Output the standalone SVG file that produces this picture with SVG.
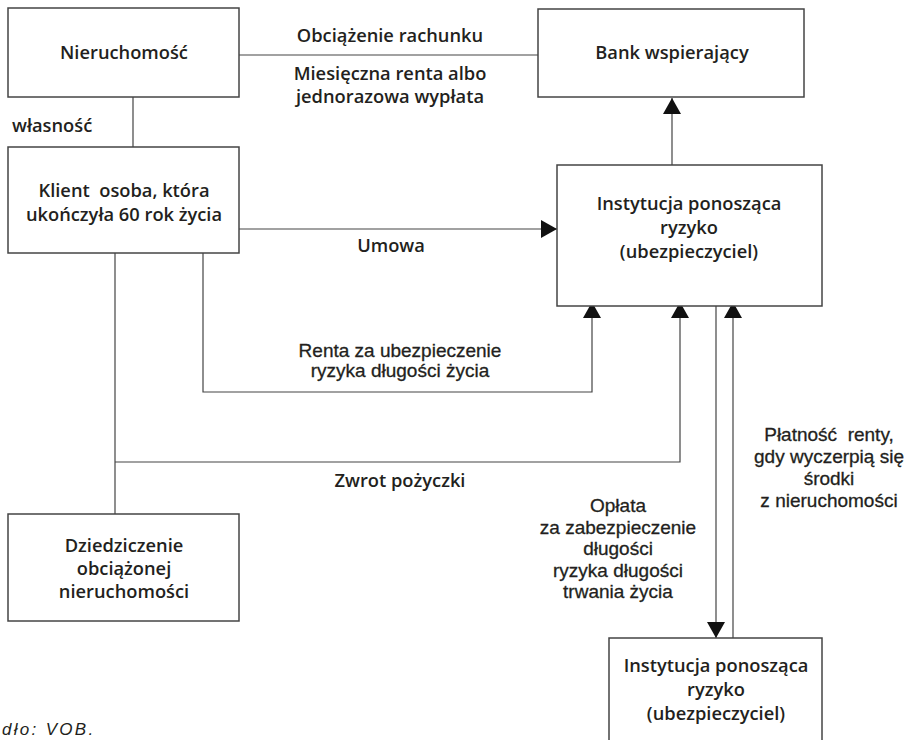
<svg xmlns="http://www.w3.org/2000/svg" width="915" height="740" viewBox="0 0 915 740">
<defs>
<style>
.box{fill:#fff;stroke:#444;stroke-width:1.5}
.ln{fill:none;stroke:#444;stroke-width:1.2}
.t{font-family:"Open Sans","Noto Sans",sans-serif;font-weight:600;font-size:18.3px;fill:#231f20;text-anchor:middle;white-space:pre}
.a{font-family:"Liberation Sans",Arial,sans-serif;font-size:19px;fill:#231f20;text-anchor:middle;stroke:#231f20;stroke-width:0.3;white-space:pre}
.src{font-family:"Liberation Sans",Arial,sans-serif;font-style:italic;font-size:17px;fill:#231f20;letter-spacing:2.3px}
</style>
<marker id="arr" markerUnits="userSpaceOnUse" markerWidth="17" markerHeight="19" viewBox="0 0 17 19" refX="16" refY="9" orient="auto">
<path d="M0,0 L16,9 L0,18 z" fill="#111"/>
</marker>
</defs>
<rect width="915" height="740" fill="#fff"/>

<g id="connectors">
<line class="ln" x1="239" y1="55" x2="538" y2="55"/>
<line class="ln" x1="133" y1="97" x2="133" y2="147"/>
<line class="ln" x1="239" y1="229" x2="557" y2="229" marker-end="url(#arr)"/>
<line class="ln" x1="672" y1="165" x2="672" y2="98" marker-end="url(#arr)"/>
<line class="ln" x1="115" y1="253" x2="115" y2="514"/>
<polyline class="ln" points="203,253 203,392 592,392 592,302" marker-end="url(#arr)"/>
<polyline class="ln" points="115,462 680,462 680,302" marker-end="url(#arr)"/>
<line class="ln" x1="716" y1="303" x2="716" y2="638" marker-end="url(#arr)"/>
<line class="ln" x1="733" y1="638" x2="733" y2="302" marker-end="url(#arr)"/>
</g>

<g id="nieruchomosc">
<rect class="box" x="8" y="8" width="231" height="89"/>
<text class="t" x="124" y="59">Nieruchomość</text>
</g>
<g id="bank">
<rect class="box" x="538" y="9" width="266" height="88"/>
<text class="t" x="672" y="59">Bank wspierający</text>
</g>
<g id="klient">
<rect class="box" x="8" y="147" width="231" height="106"/>
<text class="t" x="124" y="197">Klient  osoba, która</text>
<text class="t" x="124" y="221">ukończyła 60 rok życia</text>
</g>
<g id="instytucja">
<rect class="box" x="557" y="165" width="265" height="141"/>
<text class="t" x="689" y="210">Instytucja ponosząca</text>
<text class="t" x="689" y="234">ryzyko</text>
<text class="t" x="689" y="258">(ubezpieczyciel)</text>
</g>
<g id="dziedziczenie">
<rect class="box" x="8" y="514" width="231" height="107"/>
<text class="t" x="124" y="552">Dziedziczenie</text>
<text class="t" x="124" y="575">obciążonej</text>
<text class="t" x="124" y="598">nieruchomości</text>
</g>
<g id="instytucja2">
<rect class="box" x="609" y="638" width="213" height="120"/>
<text class="t" x="716" y="672">Instytucja ponosząca</text>
<text class="t" x="716" y="696">ryzyko</text>
<text class="t" x="716" y="720">(ubezpieczyciel)</text>
</g>

<g id="labels">
<text class="t" x="390" y="42">Obciążenie rachunku</text>
<text class="t" x="390" y="80">Miesięczna renta albo</text>
<text class="t" x="390" y="103">jednorazowa wypłata</text>
<text class="t" x="12" y="132" style="text-anchor:start">własność</text>
<text class="t" x="391" y="252">Umowa</text>
<text class="a" x="400" y="357">Renta za ubezpieczenie</text>
<text class="a" x="400" y="377">ryzyka długości życia</text>
<text class="t" x="400" y="487">Zwrot pożyczki</text>
<text class="a" x="618" y="512">Opłata</text>
<text class="a" x="618" y="534">za zabezpieczenie</text>
<text class="a" x="618" y="555">długości</text>
<text class="a" x="618" y="577">ryzyka długości</text>
<text class="a" x="618" y="598">trwania życia</text>
<text class="a" x="829" y="441">Płatność  renty,</text>
<text class="a" x="829" y="463">gdy wyczerpią się</text>
<text class="a" x="829" y="485">środki</text>
<text class="a" x="829" y="507">z nieruchomości</text>
<text class="src" x="2" y="735">dło: VOB.</text>
</g>
</svg>
